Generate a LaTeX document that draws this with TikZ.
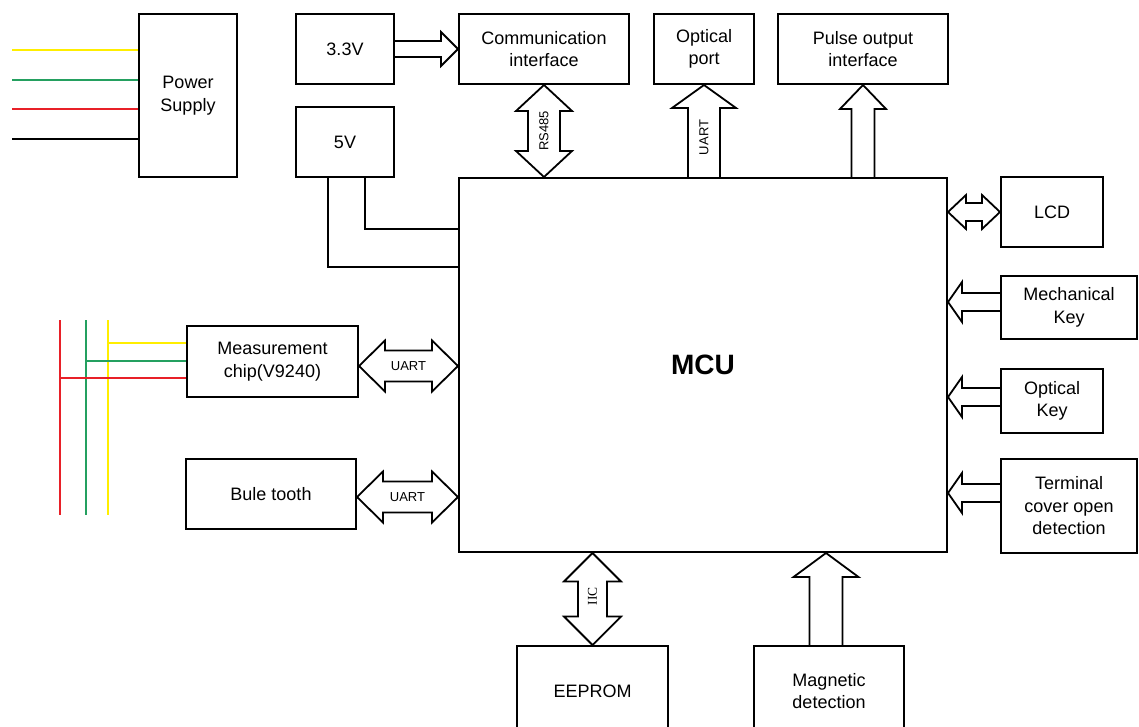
\documentclass[tikz,border=0pt]{standalone}
\usepackage{fontspec}
\setmainfont{Liberation Sans}
\newfontfamily\iicfont{Liberation Serif}
\usetikzlibrary{calc}
\definecolor{wyellow}{RGB}{255,238,0}
\definecolor{wgreen}{RGB}{36,160,96}
\definecolor{wred}{RGB}{232,32,40}
% single block arrow: #1 from, #2 tip, #3 shaft half width, #4 head half width, #5 head length
\newcommand{\sblockarrow}[5]{%
  \draw[barrow] let \p1=(#1), \p2=(#2), \n1={atan2(\y2-\y1,\x2-\x1)}, \n2={veclen(\x2-\x1,\y2-\y1)} in
    [shift={(\p1)}, rotate=\n1]
    (0pt,#3pt) -- (\n2-#5pt,#3pt) -- (\n2-#5pt,#4pt) -- (\n2,0pt) -- (\n2-#5pt,-#4pt) -- (\n2-#5pt,-#3pt) -- (0pt,-#3pt);
}
% double block arrow
\newcommand{\dblockarrow}[5]{%
  \draw[barrow] let \p1=(#1), \p2=(#2), \n1={atan2(\y2-\y1,\x2-\x1)}, \n2={veclen(\x2-\x1,\y2-\y1)} in
    [shift={(\p1)}, rotate=\n1]
    (#5pt,#3pt) -- (\n2-#5pt,#3pt) -- (\n2-#5pt,#4pt) -- (\n2,0pt) -- (\n2-#5pt,-#4pt) -- (\n2-#5pt,-#3pt)
    -- (#5pt,-#3pt) -- (#5pt,-#4pt) -- (0pt,0pt) -- (#5pt,#4pt) -- cycle;
}
\begin{document}
\begin{tikzpicture}[x=1pt,y=-1pt,
  box/.style={draw, line width=2pt, align=center, inner sep=0pt, font=\fontsize{18}{22.5}\selectfont},
  wire/.style={line width=2pt},
  cwire/.style={line width=2.6pt},
  barrow/.style={draw, line width=1.8pt, line join=miter},
  lbl/.style={font=\fontsize{13}{15}\selectfont, inner sep=0pt}]
\useasboundingbox (0,0) rectangle (1139,726);
\clip (0,0) rectangle (1139,726);

% boxes
\node[box, minimum width=98pt, minimum height=163pt] (ps) at (188,95.5) {Power\\Supply};
\node[box, minimum width=98pt, minimum height=70pt] (v33) at (345,49) {3.3V};
\node[box, minimum width=98pt, minimum height=70pt] (v5) at (345,142) {5V};
\node[box, minimum width=170pt, minimum height=70pt] (comm) at (544,49) {Communication\\interface};
\node[box, minimum width=100pt, minimum height=70pt] (optp) at (704,49) {Optical\\port};
\node[box, minimum width=170pt, minimum height=70pt] (pulse) at (863,49) {Pulse output\\interface};
\node[box, minimum width=488pt, minimum height=374pt, font=\fontsize{28}{30}\selectfont\bfseries] (mcu) at (703,365) {MCU};
\node[box, minimum width=102pt, minimum height=70pt] (lcd) at (1052,212) {LCD};
\node[box, minimum width=136pt, minimum height=63pt] (mech) at (1069,307.5) {Mechanical\\Key};
\node[box, minimum width=102pt, minimum height=64pt] (optk) at (1052,401) {Optical\\Key};
\node[box, minimum width=136pt, minimum height=94pt] (term) at (1069,506) {Terminal\\cover open\\detection};
\node[box, minimum width=171pt, minimum height=71pt] (meas) at (272.5,361.5) {Measurement\\chip(V9240)};
\node[box, minimum width=170pt, minimum height=70pt] (blue) at (271,494) {Bule tooth};
\node[box, minimum width=151pt, minimum height=90pt] (eeprom) at (592.5,691) {EEPROM};
\node[box, minimum width=150pt, minimum height=90pt] (magn) at (829,691) {Magnetic\\detection};

% power input lines
\coordinate (inY) at (12,50);
\coordinate (inG) at (12,80);
\coordinate (inR) at (12,109);
\coordinate (inK) at (12,139);
\draw[cwire, wyellow] (inY) -- (inY -| ps.west);
\draw[cwire, wgreen] (inG) -- (inG -| ps.west);
\draw[cwire, wred] (inR) -- (inR -| ps.west);
\draw[wire, black] (inK) -- (inK -| ps.west);

% power supply to regulators
\draw[wire] ($(v33.west)+(0,-13)$) -- ($(v33.west)+(0,-13)$ -| ps.east);
\draw[wire] ($(v33.west)+(0,17)$) -- ($(v33.west)+(0,17)$ -| ps.east);
\draw[wire] ($(v5.west)+(0,-14)$) -- ($(v5.west)+(0,-14)$ -| ps.east);
\draw[wire] ($(v5.west)+(0,15)$) -- ($(v5.west)+(0,15)$ -| ps.east);

% 5V to MCU
\draw[wire] ($(v5.south west)+(33,0)$) |- ($(mcu.north west)+(0,90)$);
\draw[wire] ($(v5.south west)+(70,0)$) |- ($(mcu.north west)+(0,52)$);

% 3.3V to communication interface
\sblockarrow{v33.east}{comm.west}{8}{17}{17}

% top arrows
\dblockarrow{comm.south}{mcu.north -| comm.south}{16}{28}{26}
\node[lbl, rotate=90] (lrs) at ($(comm.south)!0.5!(mcu.north -| comm.south)$) {RS485};
\sblockarrow{mcu.north -| optp.south}{optp.south}{16}{32}{23}
\node[lbl, rotate=90] (luo) at ($(optp.south)!0.57!(mcu.north -| optp.south)$) {UART};
\sblockarrow{mcu.north -| pulse.south}{pulse.south}{11.5}{23}{24}

% right arrows
\dblockarrow{mcu.east |- lcd.west}{lcd.west}{9}{17}{18}
\coordinate (mk) at ($(mech.west)+(0,-5.5)$);
\sblockarrow{mk}{mk -| mcu.east}{9}{20}{14}
\coordinate (ok) at ($(optk.west)+(0,-4)$);
\sblockarrow{ok}{ok -| mcu.east}{9}{20}{14}
\coordinate (tk) at ($(term.west)+(0,-13)$);
\sblockarrow{tk}{tk -| mcu.east}{9}{20}{14}

% left arrows
\coordinate (ma) at ($(meas.east)+(0,4.5)$);
\dblockarrow{ma}{ma -| mcu.west}{15.5}{25.5}{26}
\node[lbl] (lum) at ($(ma)!0.5!(ma -| mcu.west)$) {UART};
\coordinate (ba) at ($(blue.east)+(0,3)$);
\dblockarrow{ba}{ba -| mcu.west}{15.5}{25.5}{26}
\node[lbl] (lub) at ($(ba)!0.5!(ba -| mcu.west)$) {UART};

% bottom arrows
\dblockarrow{mcu.south -| eeprom.north}{eeprom.north}{14.5}{28.5}{28.5}
\node[lbl, rotate=90, font=\iicfont\fontsize{13.5}{15}\selectfont] (liic) at ($(mcu.south -| eeprom.north)!0.47!(eeprom.north)$) {IIC};
\coordinate (mg) at ($(magn.north)+(-3,0)$);
\sblockarrow{mg}{mg |- mcu.south}{16.5}{32.5}{24}

% measurement input lines
\coordinate (rTop) at (60,320);
\coordinate (gTop) at (86,320);
\coordinate (yTop) at (108,320);
\draw[cwire, wred] (rTop) -- ++(0,195);
\draw[cwire, wgreen] (gTop) -- ++(0,195);
\draw[cwire, wyellow] (yTop) -- ++(0,195);
\draw[cwire, wyellow] (yTop |- 0,343) -- (meas.west |- 0,343);
\draw[cwire, wgreen] (gTop |- 0,361) -- (meas.west |- 0,361);
\draw[cwire, wred] (rTop |- 0,378) -- (meas.west |- 0,378);
\end{tikzpicture}
\end{document}
